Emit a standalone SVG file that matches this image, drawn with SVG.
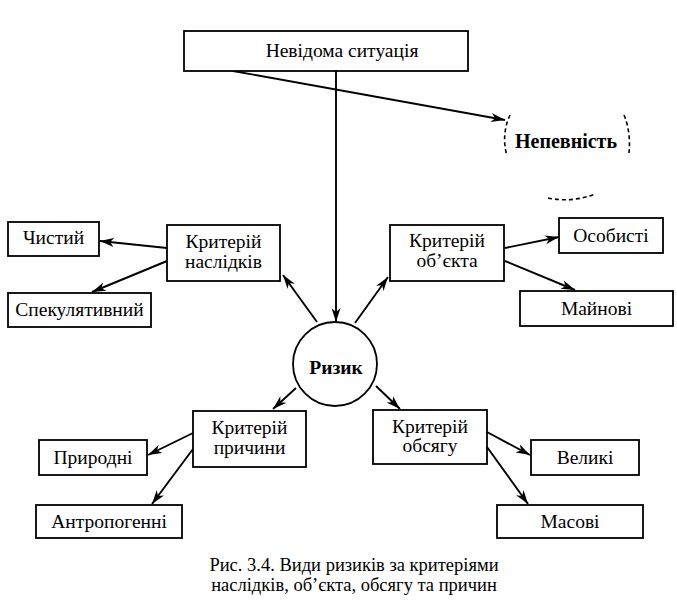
<svg xmlns="http://www.w3.org/2000/svg" width="677" height="608" viewBox="0 0 677 608">
<style>
.box{fill:#fff;stroke:#000;stroke-width:1.8}
.t{font-family:"Liberation Serif","Times New Roman",serif;font-size:19.5px;fill:#000;text-anchor:middle}
.cap{font-size:18.5px}
.b{font-weight:bold}
.c{stroke:#000;stroke-width:1.9;fill:none}
.d{stroke:#000;stroke-width:1.6;fill:none;stroke-dasharray:4 3}
</style>
<defs>
<marker id="ah" viewBox="0 0 14 9" markerWidth="14" markerHeight="9" refX="14" refY="4.5" orient="auto" markerUnits="userSpaceOnUse">
<path d="M0,0 L14,4.5 L0,9 L4,4.5 Z" fill="#000"/>
</marker>
</defs>
<rect width="677" height="608" fill="#fff"/>
<g id="connectors">
<line class="c" x1="233" y1="71" x2="505" y2="120" marker-end="url(#ah)"/>
<line class="c" x1="336" y1="71" x2="336" y2="322" marker-end="url(#ah)"/>
<line class="c" x1="317" y1="322" x2="283" y2="275" marker-end="url(#ah)"/>
<line class="c" x1="167" y1="248" x2="100" y2="241" marker-end="url(#ah)"/>
<line class="c" x1="167" y1="261" x2="92" y2="292" marker-end="url(#ah)"/>
<line class="c" x1="355" y1="323" x2="388" y2="277" marker-end="url(#ah)"/>
<line class="c" x1="505" y1="248" x2="559" y2="237" marker-end="url(#ah)"/>
<line class="c" x1="505" y1="261" x2="575" y2="290" marker-end="url(#ah)"/>
<line class="c" x1="296" y1="388" x2="273" y2="409" marker-end="url(#ah)"/>
<line class="c" x1="193" y1="433" x2="148" y2="455" marker-end="url(#ah)"/>
<line class="c" x1="193" y1="449" x2="152" y2="504" marker-end="url(#ah)"/>
<line class="c" x1="376" y1="386" x2="400" y2="409" marker-end="url(#ah)"/>
<line class="c" x1="487" y1="432" x2="530" y2="455" marker-end="url(#ah)"/>
<line class="c" x1="487" y1="447" x2="528" y2="504" marker-end="url(#ah)"/>
</g>
<g id="n-situation">
<rect class="box" x="184" y="31" width="284" height="40"/>
<text class="t" x="342" y="57">Невідома ситуація</text>
</g>
<g id="n-uncertainty">
<path class="d" d="M510,115 Q501,135 507,156"/>
<path class="d" d="M624,115 Q631,132 629,153"/>
<path class="d" d="M548,198 Q572,203 595,194"/>
<text class="t b" x="566" y="148" style="font-size:20px">Непевність</text>
</g>
<g id="n-risk">
<circle class="box" cx="335" cy="364" r="42"/>
<text class="t b" x="336" y="374" style="font-size:19.5px">Ризик</text>
</g>
<g id="n-naslidkiv">
<rect class="box" x="167" y="225" width="113" height="56"/>
<text class="t" x="223.5" y="248">Критерій</text>
<text class="t" x="223.5" y="268">наслідків</text>
</g>
<g id="n-chystyi">
<rect class="box" x="8" y="222" width="91" height="34"/>
<text class="t" x="53.5" y="244">Чистий</text>
</g>
<g id="n-spekul">
<rect class="box" x="8" y="293" width="143" height="34"/>
<text class="t" x="79.5" y="316">Спекулятивний</text>
</g>
<g id="n-obekta">
<rect class="box" x="390" y="225" width="114" height="56"/>
<text class="t" x="447" y="247">Критерій</text>
<text class="t" x="447" y="267">об’єкта</text>
</g>
<g id="n-osobysti">
<rect class="box" x="559" y="218" width="104" height="35"/>
<text class="t" x="611" y="242">Особисті</text>
</g>
<g id="n-mainovi">
<rect class="box" x="520" y="291" width="153" height="35"/>
<text class="t" x="596.5" y="315">Майнові</text>
</g>
<g id="n-prychyny">
<rect class="box" x="193" y="411" width="113" height="56"/>
<text class="t" x="249.5" y="434">Критерій</text>
<text class="t" x="249.5" y="454">причини</text>
</g>
<g id="n-pryrodni">
<rect class="box" x="39" y="440" width="108" height="35"/>
<text class="t" x="93" y="464">Природні</text>
</g>
<g id="n-antropo">
<rect class="box" x="36" y="505" width="146" height="33"/>
<text class="t" x="109" y="528">Антропогенні</text>
</g>
<g id="n-obsyagu">
<rect class="box" x="373" y="410" width="114" height="54"/>
<text class="t" x="430" y="433">Критерій</text>
<text class="t" x="430" y="452">обсягу</text>
</g>
<g id="n-velyki">
<rect class="box" x="531" y="440" width="108" height="35"/>
<text class="t" x="585" y="464">Великі</text>
</g>
<g id="n-masovi">
<rect class="box" x="497" y="505" width="146" height="33"/>
<text class="t" x="570" y="528">Масові</text>
</g>
<g id="caption">
<text class="t cap" x="354" y="571">Рис. 3.4. Види ризиків за критеріями</text>
<text class="t cap" x="354" y="591">наслідків, об’єкта, обсягу та причин</text>
</g>
</svg>
